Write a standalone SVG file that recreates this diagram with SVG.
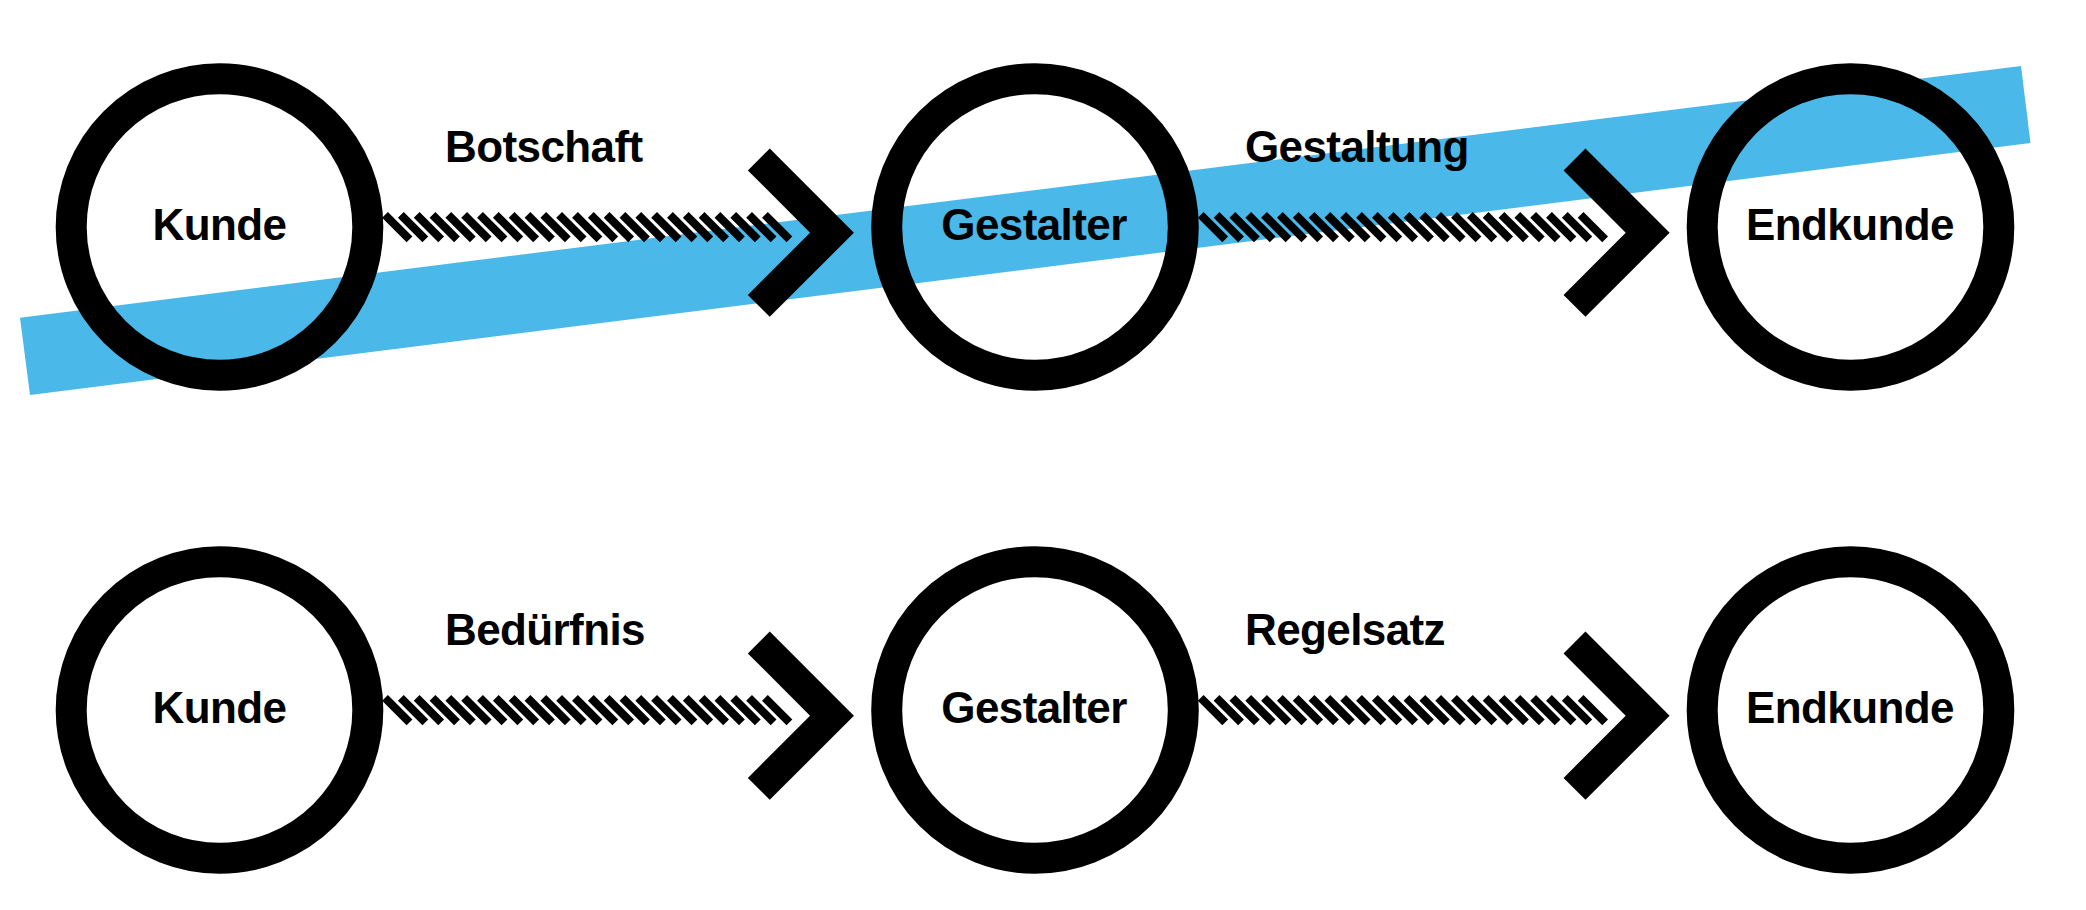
<svg xmlns="http://www.w3.org/2000/svg" xmlns:xlink="http://www.w3.org/1999/xlink" width="2086" height="910" viewBox="0 0 2086 910">
<style>
.ring{fill:none;stroke:#000;stroke-width:31}
.hatch{fill:none;stroke:#000;stroke-width:8.2;stroke-linecap:butt}
.chev{fill:none;stroke:#000;stroke-width:31;stroke-linejoin:miter;stroke-miterlimit:4;stroke-linecap:butt}
.lbl{font-family:"Liberation Sans",Arial,Helvetica,sans-serif;font-weight:bold;font-size:44px;letter-spacing:-0.6px;fill:#000}
.ctr{text-anchor:middle}
.band{fill:#4ab8e8}
</style>
<defs>
<path id="hatch" class="hatch" d="M0,0l24.5,24.5M15.83,0l24.5,24.5M31.66,0l24.5,24.5M47.49,0l24.5,24.5M63.32,0l24.5,24.5M79.15,0l24.5,24.5M94.98,0l24.5,24.5M110.81,0l24.5,24.5M126.64,0l24.5,24.5M142.47,0l24.5,24.5M158.3,0l24.5,24.5M174.13,0l24.5,24.5M189.96,0l24.5,24.5M205.79,0l24.5,24.5M221.62,0l24.5,24.5M237.45,0l24.5,24.5M253.28,0l24.5,24.5M269.11,0l24.5,24.5M284.94,0l24.5,24.5M300.77,0l24.5,24.5M316.6,0l24.5,24.5M332.43,0l24.5,24.5M348.26,0l24.5,24.5M364.09,0l24.5,24.5M379.92,0l24.5,24.5"/>
<polyline id="chev" class="chev" points="0,0 73.2,73.2 0,146.4"/>
</defs>
<rect width="2086" height="910" fill="#fff"/>
<polygon id="band" class="band" points="20,317.7 2021,66 2030.5,143 30,395"/>
<g id="connectors">
<g id="c1">
<use xlink:href="#hatch" x="385" y="214.8"/>
<use xlink:href="#chev" x="758.8" y="159.5"/>
<text class="lbl" x="445" y="161.5">Botschaft</text>
</g>
<g id="c2">
<use xlink:href="#hatch" x="1200.7" y="214.8"/>
<use xlink:href="#chev" x="1574.5" y="159.5"/>
<text class="lbl" x="1245" y="161.5">Gestaltung</text>
</g>
<g id="c3">
<use xlink:href="#hatch" x="385" y="697.8"/>
<use xlink:href="#chev" x="758.8" y="642.5"/>
<text class="lbl" x="445" y="644.5">Bedürfnis</text>
</g>
<g id="c4">
<use xlink:href="#hatch" x="1200.7" y="697.8"/>
<use xlink:href="#chev" x="1574.5" y="642.5"/>
<text class="lbl" x="1245" y="644.5">Regelsatz</text>
</g>
</g>
<g id="kunde1"><circle class="ring" cx="219.5" cy="227" r="148.3"/><text class="lbl ctr" x="219.5" y="239.5">Kunde</text></g>
<g id="gestalter1"><circle class="ring" cx="1035" cy="227" r="148.3"/><text class="lbl ctr" x="1034" y="239.5">Gestalter</text></g>
<g id="endkunde1"><circle class="ring" cx="1850.5" cy="227" r="148.3"/><text class="lbl ctr" x="1850" y="239.5">Endkunde</text></g>
<g id="kunde2"><circle class="ring" cx="219.5" cy="710" r="148.3"/><text class="lbl ctr" x="219.5" y="722.5">Kunde</text></g>
<g id="gestalter2"><circle class="ring" cx="1035" cy="710" r="148.3"/><text class="lbl ctr" x="1034" y="722.5">Gestalter</text></g>
<g id="endkunde2"><circle class="ring" cx="1850.5" cy="710" r="148.3"/><text class="lbl ctr" x="1850" y="722.5">Endkunde</text></g>
</svg>
